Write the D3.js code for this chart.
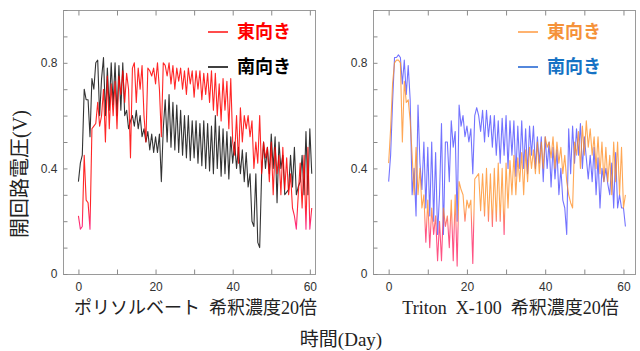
<!DOCTYPE html>
<html>
<head>
<meta charset="utf-8">
<script src="https://cdn.jsdelivr.net/npm/d3@7"></script>
<style>
  body { margin: 0; background: #fff; }
  svg { display: block; }
</style>
</head>
<body>
<div id="chart"></div>
<script>
// sample days (every half day)
var days = [
  0, 0.5, 1, 1.5, 2, 2.5, 3, 3.5, 4, 4.5,
  5, 5.5, 6, 6.5, 7, 7.5, 8, 8.5, 9, 9.5,
  10, 10.5, 11, 11.5, 12, 12.5, 13, 13.5, 14, 14.5,
  15, 15.5, 16, 16.5, 17, 17.5, 18, 18.5, 19, 19.5,
  20, 20.5, 21, 21.5, 22, 22.5, 23, 23.5, 24, 24.5,
  25, 25.5, 26, 26.5, 27, 27.5, 28, 28.5, 29, 29.5,
  30, 30.5, 31, 31.5, 32, 32.5, 33, 33.5, 34, 34.5,
  35, 35.5, 36, 36.5, 37, 37.5, 38, 38.5, 39, 39.5,
  40, 40.5, 41, 41.5, 42, 42.5, 43, 43.5, 44, 44.5,
  45, 45.5, 46, 46.5, 47, 47.5, 48, 48.5, 49, 49.5,
  50, 50.5, 51, 51.5, 52, 52.5, 53, 53.5, 54, 54.5,
  55, 55.5, 56, 56.5, 57, 57.5, 58, 58.5, 59, 59.5,
  60, 60.5
];

// ポリソルベート 東向き
var polyEast = [
  0.22, 0.17, 0.18, 0.45, 0.28, 0.27, 0.17, 0.55, 0.56, 0.57,
  0.65, 0.56, 0.60, 0.70, 0.50, 0.75, 0.55, 0.72, 0.60, 0.73,
  0.55, 0.75, 0.68, 0.77, 0.65, 0.76, 0.70, 0.44, 0.78, 0.80,
  0.65, 0.78, 0.70, 0.79, 0.60, 0.50, 0.78, 0.77, 0.75, 0.78,
  0.72, 0.80, 0.70, 0.52, 0.80, 0.79, 0.75, 0.80, 0.72, 0.79,
  0.70, 0.78, 0.73, 0.78, 0.70, 0.77, 0.68, 0.78, 0.72, 0.77,
  0.67, 0.77, 0.70, 0.77, 0.66, 0.76, 0.68, 0.76, 0.65, 0.77,
  0.62, 0.76, 0.60, 0.72, 0.58, 0.74, 0.62, 0.73, 0.55, 0.74,
  0.50, 0.45, 0.60, 0.42, 0.63, 0.50, 0.60, 0.55, 0.60, 0.52,
  0.58, 0.40, 0.50, 0.42, 0.60, 0.38, 0.50, 0.44, 0.48, 0.35,
  0.50, 0.30, 0.48, 0.38, 0.45, 0.30, 0.48, 0.32, 0.44, 0.30,
  0.38, 0.25, 0.22, 0.17, 0.30, 0.42, 0.25, 0.45, 0.17, 0.48,
  0.17, 0.25
];

// ポリソルベート 南向き
var polySouth = [
  0.35, 0.42, 0.45, 0.70, 0.66, 0.66, 0.52, 0.74, 0.70, 0.80,
  0.81, 0.60, 0.74, 0.82, 0.60, 0.78, 0.62, 0.80, 0.64, 0.80,
  0.60, 0.79, 0.62, 0.80, 0.60, 0.62, 0.55, 0.58, 0.60, 0.56,
  0.62, 0.55, 0.60, 0.52, 0.55, 0.50, 0.54, 0.47, 0.53, 0.46,
  0.52, 0.46, 0.53, 0.35, 0.55, 0.66, 0.50, 0.68, 0.48, 0.65,
  0.47, 0.64, 0.46, 0.62, 0.45, 0.60, 0.44, 0.60, 0.43, 0.58,
  0.44, 0.58, 0.42, 0.57, 0.41, 0.58, 0.40, 0.57, 0.39, 0.56,
  0.38, 0.60, 0.40, 0.56, 0.37, 0.55, 0.38, 0.54, 0.36, 0.52,
  0.42, 0.50, 0.40, 0.48, 0.38, 0.47, 0.35, 0.46, 0.33, 0.38,
  0.20, 0.18, 0.38, 0.12, 0.10, 0.38, 0.50, 0.40, 0.48, 0.38,
  0.53, 0.40, 0.52, 0.27, 0.50, 0.40, 0.45, 0.30, 0.31, 0.32,
  0.45, 0.33, 0.48, 0.30, 0.33, 0.35, 0.45, 0.30, 0.54, 0.30,
  0.55, 0.38
];

// Triton X-100 東向き
var tritonEast = [
  0.42, 0.55, 0.72, 0.80, 0.81, 0.81, 0.80, 0.50, 0.73, 0.65,
  0.66, 0.58, 0.45, 0.30, 0.48, 0.30, 0.40, 0.25, 0.30, 0.12,
  0.28, 0.10, 0.25, 0.15, 0.22, 0.05, 0.20, 0.05, 0.25, 0.18,
  0.22, 0.10, 0.28, 0.05, 0.30, 0.03, 0.35, 0.32, 0.30, 0.20,
  0.28, 0.25, 0.28, 0.04, 0.36, 0.37, 0.38, 0.24, 0.38, 0.22,
  0.40, 0.20, 0.38, 0.18, 0.40, 0.20, 0.42, 0.20, 0.40, 0.15,
  0.42, 0.25, 0.43, 0.30, 0.45, 0.30, 0.44, 0.35, 0.46, 0.30,
  0.47, 0.35, 0.48, 0.40, 0.47, 0.38, 0.50, 0.38, 0.50, 0.40,
  0.52, 0.48, 0.50, 0.44, 0.52, 0.40, 0.50, 0.42, 0.48, 0.38,
  0.45, 0.35, 0.30, 0.27, 0.25, 0.50, 0.45, 0.54, 0.40, 0.56,
  0.45, 0.58, 0.48, 0.55, 0.45, 0.52, 0.40, 0.52, 0.38, 0.50,
  0.35, 0.48, 0.35, 0.45, 0.30, 0.50, 0.35, 0.50, 0.30, 0.48,
  0.25, 0.30
];

// Triton X-100 南向き
var tritonSouth = [
  0.35, 0.45, 0.65, 0.82, 0.82, 0.83, 0.82, 0.72, 0.81, 0.68,
  0.79, 0.66, 0.30, 0.40, 0.22, 0.64, 0.42, 0.32, 0.50, 0.25,
  0.48, 0.22, 0.50, 0.20, 0.46, 0.15, 0.30, 0.57, 0.15, 0.50,
  0.50, 0.35, 0.58, 0.48, 0.54, 0.20, 0.64, 0.56, 0.60, 0.52,
  0.56, 0.50, 0.55, 0.38, 0.60, 0.63, 0.60, 0.54, 0.62, 0.50,
  0.62, 0.52, 0.60, 0.48, 0.60, 0.45, 0.58, 0.42, 0.59, 0.45,
  0.60, 0.40, 0.58, 0.45, 0.58, 0.37, 0.56, 0.40, 0.58, 0.40,
  0.55, 0.38, 0.56, 0.45, 0.56, 0.40, 0.52, 0.42, 0.52, 0.35,
  0.52, 0.40, 0.50, 0.33, 0.48, 0.36, 0.47, 0.30, 0.40, 0.28,
  0.25, 0.15, 0.55, 0.38, 0.56, 0.42, 0.55, 0.45, 0.57, 0.40,
  0.52, 0.44, 0.36, 0.45, 0.35, 0.48, 0.30, 0.44, 0.25, 0.40,
  0.35, 0.40, 0.34, 0.30, 0.42, 0.25, 0.46, 0.25, 0.30, 0.25,
  0.25, 0.18
];

var legendNames = ['東向き', '南向き'];
var xTicks = [0, 10, 20, 30, 40, 50, 60];
var yTicks = [0, 0.1, 0.2, 0.3, 0.4, 0.5, 0.6, 0.7, 0.8, 0.9, 1.0];
var xLabelled = [0, 20, 40, 60];
var yLabelled = [0, 0.4, 0.8];

// low: colour used below the "lowAt" voltage (the traces turn pinkish at the bottom)
var panels = [
  { left: 63, right: 316, domain: [-4, 61.6], caption: 'ポリソルベート  希釈濃度20倍',
    series: [
      { values: polySouth, color: '#000000', opacity: 0.8 },
      { values: polyEast, color: '#ff0000', low: '#ff0a6a', lowAt: 0.22, opacity: 0.85 }
    ],
    legend: [
      { color: '#ff1010', text: '#ff0000' },
      { color: '#000000', text: '#000000' }
    ] },
  { left: 373, right: 636, domain: [-4, 63.2], caption: 'Triton  X-100  希釈濃度20倍',
    series: [
      { values: tritonSouth, color: '#0000ff', opacity: 0.55 },
      { values: tritonEast, color: '#ff8a1c', low: '#ff1a5a', lowAt: 0.2, opacity: 0.75 }
    ],
    legend: [
      { color: '#ff9a40', text: '#f5923a' },
      { color: '#1a5fd0', text: '#1672c4' }
    ] }
];

var width = 640, height = 351;
var plotTop = 10, plotBottom = 274;

var svg = d3.select('#chart')
  .append('svg')
  .attr('width', width)
  .attr('height', height);

var defs = svg.append('defs');

var y = d3.scaleLinear().domain([0, 1]).range([plotBottom, plotTop]);

panels.forEach(function (p, pi) {
  var x = d3.scaleLinear().domain(p.domain).range([p.left, p.right]);
  var g = svg.append('g');

  // clip the lines to the frame
  var clipId = 'clip' + pi;
  defs.append('clipPath').attr('id', clipId)
    .append('rect')
    .attr('x', p.left).attr('y', plotTop)
    .attr('width', p.right - p.left).attr('height', plotBottom - plotTop);

  // Define the line
  var line = d3.line()
    .x(function (d, i) { return x(days[i]); })
    .y(function (d) { return y(d); });

  p.series.forEach(function (s, si) {
    var stroke = s.color;
    if (s.low) {
      // vertical gradient: base colour above, pink near the bottom
      var gid = 'grad' + pi + '_' + si;
      var grad = defs.append('linearGradient')
        .attr('id', gid)
        .attr('gradientUnits', 'userSpaceOnUse')
        .attr('x1', 0).attr('x2', 0)
        .attr('y1', y(s.lowAt + 0.05)).attr('y2', y(s.lowAt - 0.04));
      grad.append('stop').attr('offset', 0).attr('stop-color', s.color);
      grad.append('stop').attr('offset', 1).attr('stop-color', s.low);
      stroke = 'url(#' + gid + ')';
    }
    g.append('path')
      .attr('clip-path', 'url(#' + clipId + ')')
      .attr('d', line(s.values))
      .style('fill', 'none')
      .style('stroke', stroke)
      .style('stroke-opacity', s.opacity)
      .style('stroke-width', 1.1)
      .style('stroke-linejoin', 'round');
  });

  // frame
  g.append('rect')
    .attr('x', p.left + 0.5).attr('y', plotTop + 0.5)
    .attr('width', p.right - p.left - 1).attr('height', plotBottom - plotTop)
    .style('fill', 'none')
    .style('stroke', '#9a9a9a')
    .style('stroke-width', 1);

  // bottom axis, ticks pointing inward
  var xAxis = d3.axisBottom(x)
    .tickValues(xTicks)
    .tickSize(-5)
    .tickPadding(8)
    .tickFormat(function (d) { return xLabelled.indexOf(d) >= 0 ? d : ''; });
  var xg = g.append('g')
    .attr('transform', 'translate(0,' + (plotBottom + 0.5) + ')')
    .call(xAxis);

  // top ticks
  var xTop = d3.axisTop(x).tickValues(xTicks).tickSize(-5).tickFormat('');
  var tg = g.append('g')
    .attr('transform', 'translate(0,' + (plotTop + 0.5) + ')')
    .call(xTop);

  // left axis
  var yAxis = d3.axisLeft(y)
    .tickValues(yTicks)
    .tickSize(-4)
    .tickPadding(6)
    .tickFormat(function (d) { return yLabelled.indexOf(d) >= 0 ? (d === 0 ? '0' : d3.format('.1f')(d)) : ''; });
  var yg = g.append('g')
    .attr('transform', 'translate(' + (p.left + 0.5) + ',0)')
    .call(yAxis);

  [xg, tg, yg].forEach(function (a) {
    a.select('.domain').remove();
    a.selectAll('line').style('stroke', '#8a8a8a');
    a.selectAll('text')
      .style('font-family', 'Liberation Sans, Arial, sans-serif')
      .style('font-size', '12px')
      .style('fill', '#333');
  });

  // legend
  p.legend.forEach(function (l, i) {
    var ly = 32 + i * 35;
    var lx = p.left + 145;
    g.append('line')
      .attr('x1', lx).attr('x2', lx + 20)
      .attr('y1', ly).attr('y2', ly)
      .style('stroke', l.color)
      .style('stroke-width', 1.5);
    g.append('text')
      .attr('x', lx + 29).attr('y', ly)
      .attr('dy', '0.36em')
      .style('font-family', 'Noto Sans CJK JP, sans-serif')
      .style('font-weight', 'bold')
      .style('font-size', '18px')
      .style('fill', l.text)
      .text(legendNames[i]);
  });

  // panel caption
  g.append('text')
    .attr('x', (p.left + p.right) / 2 + 6)
    .attr('y', 314)
    .attr('text-anchor', 'middle')
    .style('font-family', 'Liberation Serif, Noto Sans CJK JP, serif')
    .style('font-size', '18px')
    .style('fill', '#222')
    .style('white-space', 'pre')
    .text(p.caption);
});

// x axis title
svg.append('text')
  .attr('x', 341)
  .attr('y', 346)
  .attr('text-anchor', 'middle')
  .style('font-family', 'Liberation Serif, Noto Sans CJK JP, serif')
  .style('font-size', '19px')
  .style('fill', '#222')
  .text('時間(Day)');

// y axis title
svg.append('text')
  .attr('transform', 'translate(27,174) rotate(-90)')
  .attr('text-anchor', 'middle')
  .style('font-family', 'Liberation Serif, Noto Sans CJK JP, serif')
  .style('font-size', '20px')
  .style('fill', '#222')
  .text('開回路電圧(V)');
</script>
</body>
</html>
